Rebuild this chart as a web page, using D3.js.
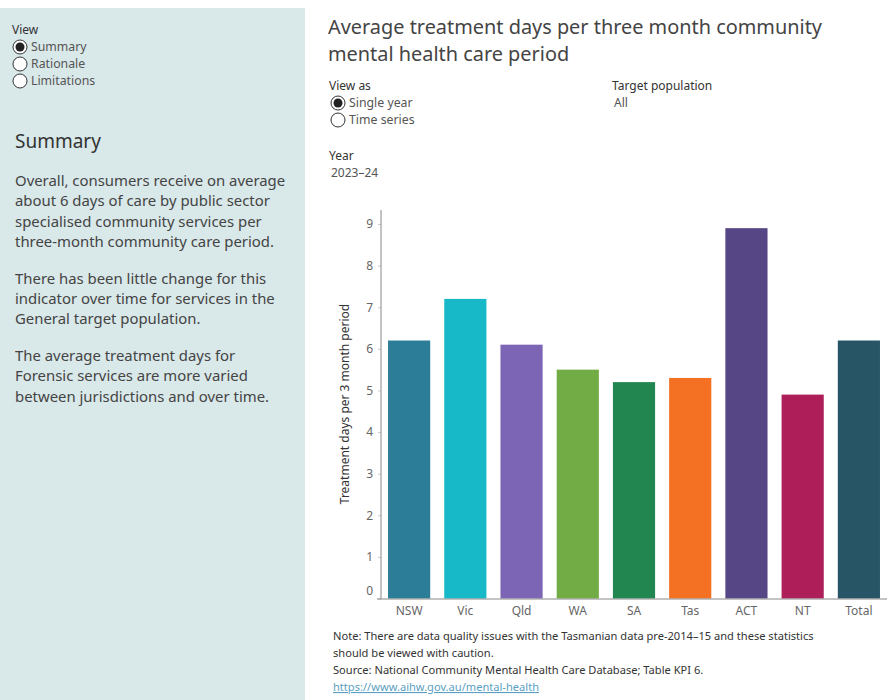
<!DOCTYPE html>
<html>
<head>
<meta charset="utf-8">
<script src="https://cdn.jsdelivr.net/npm/d3@7"></script>
<style>
  body { margin: 0; background: #fff; font-family: "Noto Sans", sans-serif; }
  svg text { font-family: "Noto Sans", sans-serif; }
</style>
</head>
<body>
<div id="chart"></div>
<script>
// Dữ liệu biểu đồ
const states = ["NSW", "Vic", "Qld", "WA", "SA", "Tas", "ACT", "NT", "Total"];
const days = [6.2, 7.2, 6.1, 5.5, 5.2, 5.3, 8.9, 4.9, 6.2];
const colors = ["#2c7d98", "#17b9c8", "#7b65b4", "#72ac45", "#21864f", "#f47124", "#574685", "#ae1f5a", "#275566"];
const yTicks = [0, 1, 2, 3, 4, 5, 6, 7, 8, 9];

const summaryParas = [
    ["Overall, consumers receive on average", "about 6 days of care by public sector", "specialised community services per", "three-month community care period."],
    ["There has been little change for this", "indicator over time for services in the", "General target population."],
    ["The average treatment days for", "Forensic services are more varied", "between jurisdictions and over time."]
];
const noteLines = [
    "Note: There are data quality issues with the Tasmanian data pre-2014–15 and these statistics",
    "should be viewed with caution.",
    "Source: National Community Mental Health Care Database;  Table KPI 6."
];

const W = 890, H = 700;
const svg = d3.select("#chart").append("svg")
    .attr("width", W)
    .attr("height", H);

// Panel bên trái
svg.append("rect")
    .attr("x", 0).attr("y", 8)
    .attr("width", 305).attr("height", H - 8)
    .attr("fill", "#d9e8e9");

function radio(g, x, y, label, checked) {
    g.append("circle")
        .attr("cx", x).attr("cy", y).attr("r", 7)
        .attr("fill", "#fff").attr("stroke", "#333").attr("stroke-width", 1);
    if (checked) {
        g.append("circle").attr("cx", x).attr("cy", y).attr("r", 4.5).attr("fill", "#222");
    }
    g.append("text")
        .attr("x", x + 11).attr("y", y + 4)
        .attr("font-size", 12.3).attr("fill", "#555")
        .text(label);
}

svg.append("text").attr("x", 12).attr("y", 34)
    .attr("font-size", 12).attr("fill", "#333").text("View");
radio(svg, 20, 47, "Summary", true);
radio(svg, 20, 64, "Rationale", false);
radio(svg, 20, 81, "Limitations", false);

svg.append("text").attr("x", 15).attr("y", 148)
    .attr("font-size", 19).attr("fill", "#333").text("Summary");

let py = 186;
summaryParas.forEach(p => {
    p.forEach(line => {
        svg.append("text").attr("x", 15).attr("y", py)
            .attr("font-size", 14.9).attr("fill", "#444").text(line);
        py += 20.3;
    });
    py += 16.5;
});

// Tiêu đề
svg.append("text").attr("x", 328).attr("y", 34)
    .attr("font-size", 19.9).attr("fill", "#444")
    .text("Average treatment days per three month community");
svg.append("text").attr("x", 328).attr("y", 61)
    .attr("font-size", 19.9).attr("fill", "#444")
    .text("mental health care period");

// Bộ lọc
svg.append("text").attr("x", 329).attr("y", 90)
    .attr("font-size", 12).attr("fill", "#333").text("View as");
radio(svg, 338, 103, "Single year", true);
radio(svg, 338, 120, "Time series", false);
svg.append("text").attr("x", 612).attr("y", 90)
    .attr("font-size", 12).attr("fill", "#333").text("Target population");
svg.append("text").attr("x", 614).attr("y", 107)
    .attr("font-size", 12).attr("fill", "#555").text("All");
svg.append("text").attr("x", 329).attr("y", 160)
    .attr("font-size", 12).attr("fill", "#333").text("Year");
svg.append("text").attr("x", 331).attr("y", 177)
    .attr("font-size", 12).attr("fill", "#555").text("2023–24");

// Thang đo
const x = d3.scaleBand()
    .domain(states)
    .range([381, 887])
    .paddingInner(0.25)
    .paddingOuter(0.125);

const y = d3.scaleLinear()
    .domain([0, 9])
    .range([598.5, 224]);

const chart = svg.append("g");

chart.selectAll(".bar")
    .data(states)
    .enter()
    .append("rect")
    .attr("class", "bar")
    .attr("x", d => x(d))
    .attr("y", (d, i) => y(days[i]))
    .attr("width", x.bandwidth())
    .attr("height", (d, i) => y(0) - y(days[i]))
    .attr("fill", (d, i) => colors[i]);

// Trục Y
const yAxis = chart.append("g")
    .attr("transform", "translate(381,0)")
    .call(d3.axisLeft(y).tickValues(yTicks).tickSize(3).tickSizeOuter(0));
yAxis.select(".domain").remove();
yAxis.selectAll(".tick line").attr("stroke", "#ccc");
yAxis.selectAll(".tick text")
    .attr("font-size", 12).attr("fill", "#666").attr("x", -8)
    .attr("dy", d => d === 0 ? "-0.35em" : "0.32em");
chart.append("line")
    .attr("x1", 381).attr("x2", 381).attr("y1", 210).attr("y2", 599)
    .attr("stroke", "#888");

// Trục X
const xAxis = chart.append("g")
    .attr("transform", "translate(0,599)")
    .call(d3.axisBottom(x).tickSize(0).tickSizeOuter(0));
xAxis.select(".domain").remove();
xAxis.selectAll(".tick text")
    .attr("font-size", 12).attr("fill", "#666").attr("dy", "1.1em");
chart.append("line")
    .attr("x1", 377).attr("x2", 887).attr("y1", 599).attr("y2", 599)
    .attr("stroke", "#888");

svg.append("text")
    .attr("transform", "translate(349,404) rotate(-90)")
    .attr("text-anchor", "middle")
    .attr("font-size", 12).attr("fill", "#333")
    .text("Treatment days per 3 month period");

// Ghi chú
noteLines.forEach((t, i) => {
    svg.append("text").attr("x", 333).attr("y", 640 + i * 17)
        .attr("font-size", 11.1).attr("fill", "#333").text(t);
});
svg.append("text").attr("x", 333).attr("y", 691)
    .attr("font-size", 11.1).attr("fill", "#5b9fc2")
    .attr("text-decoration", "underline")
    .text("https://www.aihw.gov.au/mental-health");
</script>
</body>
</html>
